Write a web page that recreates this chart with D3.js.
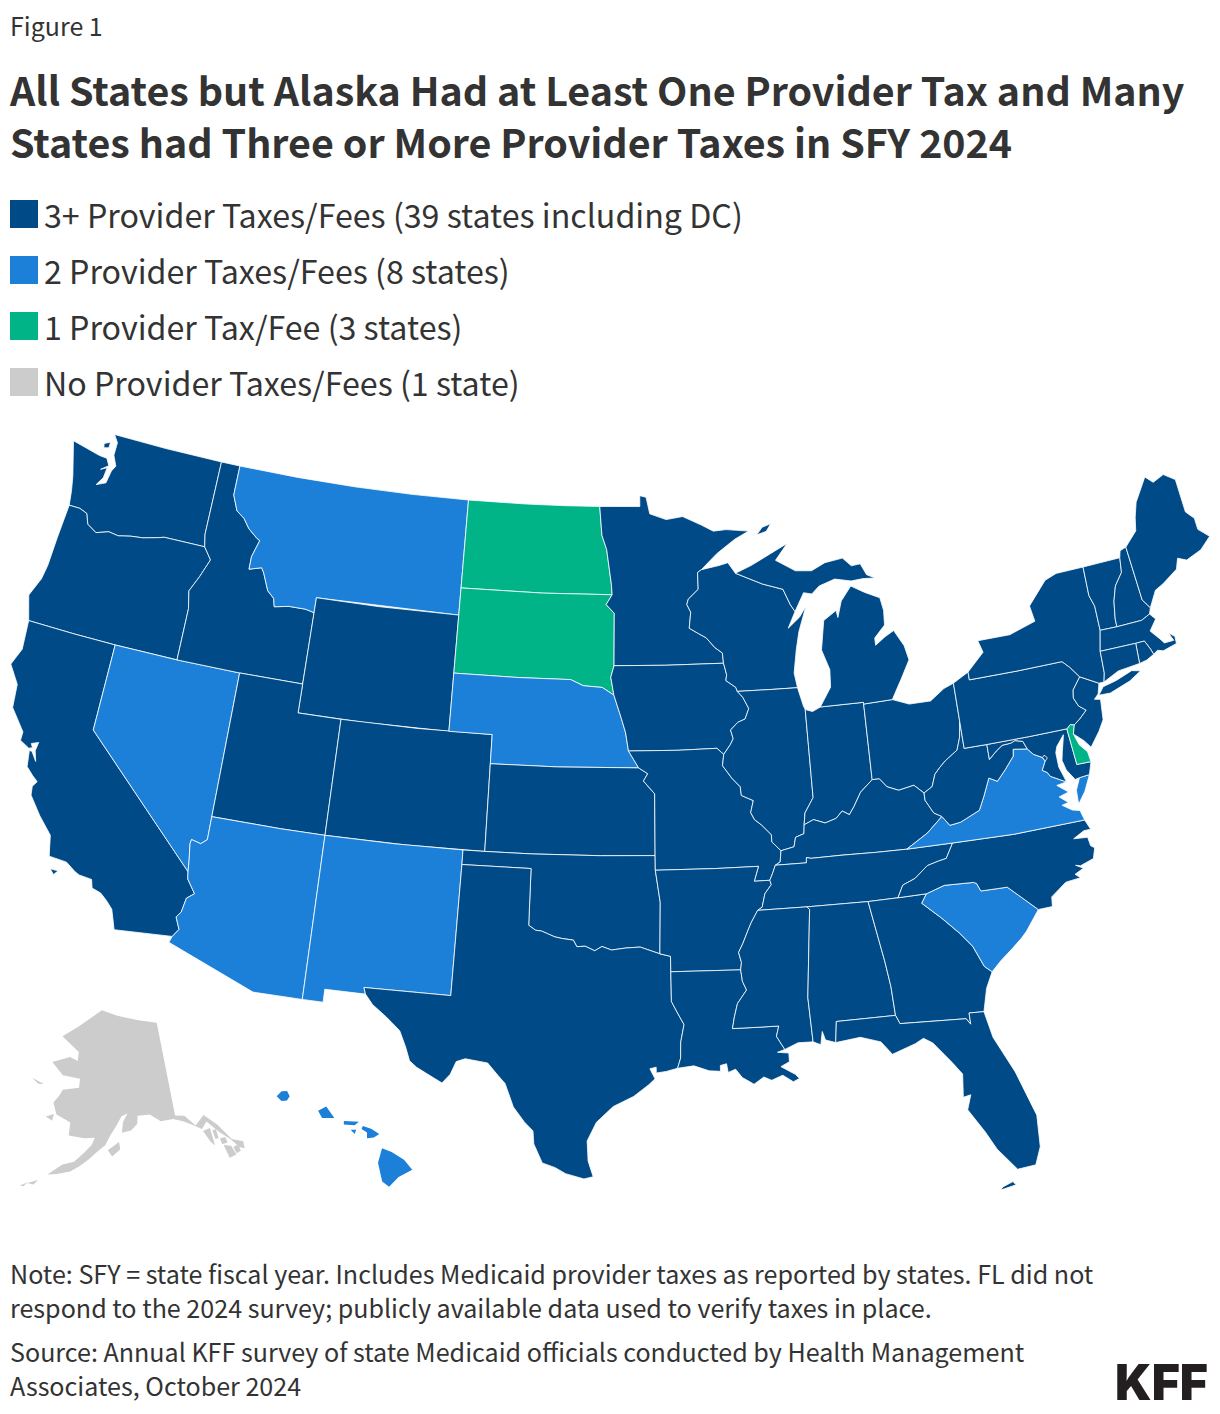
<!DOCTYPE html>
<meta charset="utf-8">
<style>
  body { margin: 0; background: #fff; }
  text { font-family: "Noto Sans CJK SC", "Noto Sans", sans-serif; fill: #333; }
</style>
<script src="https://d3js.org/d3.v7.min.js"></script>
<div id="my_dataviz"></div>

<script>
// ---- chart values ----
var categories = ["3+", "2", "1", "0"];
var categoryColors = ["#004a87", "#1c80d8", "#00b488", "#cccccc"];
var legendLabels = [
  "3+ Provider Taxes/Fees (39 states including DC)",
  "2 Provider Taxes/Fees (8 states)",
  "1 Provider Tax/Fee (3 states)",
  "No Provider Taxes/Fees (1 state)"
];
var twoTaxStates = ["MT", "NE", "NV", "AZ", "NM", "VA", "SC", "HI"];
var oneTaxStates = ["ND", "SD", "DE"];
var noTaxStates = ["AK"];
var titleLines = [
  "All States but Alaska Had at Least One Provider Tax and Many",
  "States had Three or More Provider Taxes in SFY 2024"
];
var noteLines = [
  "Note: SFY = state fiscal year. Includes Medicaid provider taxes as reported by states. FL did not",
  "respond to the 2024 survey; publicly available data used to verify taxes in place."
];
var sourceLines = [
  "Source: Annual KFF survey of state Medicaid officials conducted by Health Management",
  "Associates, October 2024"
];

// ---- shared borders, lon/lat ----
var mnWi = [[-92.1,46.75],[-92.29,46.66],[-92.29,46.08],[-92.8,45.75],[-92.88,45.57],[-92.7,45.3],[-92.8,44.75],[-92.35,44.55],[-92.0,44.4],[-91.6,44.05],[-91.25,43.85],[-91.22,43.5]];
var iaWi = [[-91.22,43.5],[-91.1,43.1],[-91.15,42.9],[-90.7,42.65],[-90.64,42.51]];
var iaIl = [[-90.64,42.51],[-90.4,42.3],[-90.15,41.9],[-90.35,41.55],[-90.7,41.45],[-91.05,41.2],[-90.95,40.9],[-91.1,40.7],[-91.42,40.38]];
var moIl = [[-91.42,40.38],[-91.5,40.0],[-91.1,39.55],[-90.75,39.25],[-90.72,38.95],[-90.2,38.75],[-90.35,38.35],[-90.2,38.1],[-89.9,37.9],[-89.5,37.55],[-89.5,37.3],[-89.13,36.98]];
var moKy = [[-89.13,36.98],[-89.2,36.6],[-89.42,36.5]];
var moTn = [[-89.42,36.5],[-89.55,36.25],[-89.7,36.0]];
var arTn = [[-89.7,36.0],[-89.65,35.85],[-89.95,35.55],[-90.1,35.1],[-90.3,35.0]];
var arMs = [[-90.3,35.0],[-90.6,34.6],[-90.75,34.35],[-91.0,33.9],[-91.2,33.6],[-91.1,33.25],[-91.15,33.0]];
var laMs = [[-91.15,33.0],[-91.1,32.6],[-90.95,32.3],[-91.35,31.85],[-91.5,31.4],[-91.6,31.0],[-90.5,31.0],[-89.73,31.0],[-89.85,30.65],[-89.55,30.18]];
var ilKy = [[-89.13,36.98],[-88.55,37.08],[-88.45,37.4],[-88.07,37.5],[-88.03,37.8]];
var inKy = [[-88.03,37.8],[-87.6,37.95],[-87.1,37.8],[-86.6,37.92],[-86.3,38.15],[-86.0,38.0],[-85.75,38.27],[-85.4,38.72],[-84.82,39.1]];
var ohKy = [[-84.82,39.1],[-84.5,39.1],[-84.2,38.8],[-83.7,38.63],[-83.0,38.73],[-82.6,38.42]];
var ohWv = [[-82.6,38.42],[-82.2,38.6],[-82.0,39.0],[-81.75,39.2],[-81.45,39.4],[-80.85,39.7],[-80.65,40.1],[-80.52,40.64]];
var ilIn = [[-88.03,37.8],[-87.95,38.2],[-87.53,38.7],[-87.53,39.35],[-87.53,40.5],[-87.53,41.72]];
var paNj = [[-74.7,41.36],[-75.13,40.97],[-75.2,40.7],[-75.05,40.4],[-74.75,40.2],[-75.13,39.95],[-75.42,39.8]];
var paDe = [[-75.42,39.8],[-75.6,39.84],[-75.79,39.72]];
var masonDixonMd = [[-79.48,39.72],[-77.5,39.72],[-75.79,39.72]];
var wvMd = [[-79.48,39.72],[-79.48,39.2],[-79.1,39.45],[-78.8,39.6],[-78.4,39.62],[-78.2,39.68],[-77.85,39.6],[-77.72,39.32]];
var wvVa = [[-77.72,39.32],[-78.35,39.4],[-78.4,39.17],[-78.87,38.76],[-79.3,38.42],[-79.65,38.58],[-80.0,38.0],[-80.3,37.55],[-80.9,37.35],[-81.2,37.25],[-81.68,37.2],[-81.97,37.54]];
var wvKy = [[-81.97,37.54],[-82.3,37.7],[-82.6,38.17],[-82.6,38.42]];
var vaKy = [[-81.97,37.54],[-82.7,37.05],[-83.68,36.6]];
var vaTn = [[-83.68,36.6],[-81.68,36.59]];
var vaNc = [[-81.68,36.59],[-79,36.54],[-75.87,36.55]];
var mdVa = [[-76.3,37.95],[-76.95,38.25],[-77.05,38.4],[-77.25,38.5],[-77.04,38.79]];
var mdVaUp = [[-77.12,38.93],[-77.5,39.1],[-77.72,39.32]];
var ncTn = [[-81.68,36.59],[-82.05,36.1],[-82.4,36.05],[-82.9,35.95],[-83.5,35.57],[-84.05,35.4],[-84.32,34.99]];
var ncSc = [[-78.55,33.86],[-79.67,34.8],[-80.8,34.82],[-80.93,35.1],[-81.05,35.15],[-82.3,35.2],[-83.1,35.0]];
var scGa = [[-80.87,32.03],[-81.15,32.25],[-81.5,33.0],[-81.95,33.5],[-82.6,34.1],[-83.35,34.7],[-83.1,35.0]];
var gaAl = [[-84.86,30.7],[-85.0,31.0],[-85.05,32.0],[-85.18,32.87],[-85.6,34.98]];
var gaFl = [[-81.45,30.72],[-82.05,30.75],[-82.05,30.36],[-82.2,30.57],[-84.86,30.7]];
var alFl = [[-87.5,30.28],[-87.4,31.0],[-85.0,31.0]];
var alMs = [[-88.2,35.0],[-88.1,34.9],[-88.47,31.9],[-88.4,30.37]];
var kyTn = [[-89.42,36.5],[-88.07,36.5],[-88.05,36.68],[-87.85,36.64],[-86.5,36.65],[-85,36.62],[-83.68,36.6]];
var tnSouth = [[-90.3,35.0],[-88.2,35.0],[-85.6,34.98],[-84.32,34.99]];
var laTx = [[-94.04,33.02],[-94.04,32.0],[-93.8,31.6],[-93.55,31.2],[-93.7,30.6],[-93.72,30.05],[-93.85,29.7]];
var arOk = [[-94.62,36.5],[-94.43,35.4],[-94.48,33.64]];
var arTx = [[-94.48,33.64],[-94.04,33.55],[-94.04,33.02]];
var okTx = [[-100,36.5],[-100,34.56],[-99.7,34.4],[-99.45,34.38],[-99.2,34.3],[-98.9,34.2],[-98.6,34.15],[-98.1,34.1],[-97.95,33.88],[-97.6,33.9],[-97.2,33.75],[-96.9,33.9],[-96.5,33.78],[-95.9,33.85],[-95.3,33.88],[-94.48,33.64]];
var moAr = [[-94.62,36.5],[-92,36.5],[-90.15,36.5],[-90.37,36.0],[-89.7,36.0]];
var ksOk = [[-102.05,37],[-100,37],[-97,37],[-94.62,37]];
var nvAz = [[-114.05,36.2],[-114.3,36.02],[-114.72,36.1],[-114.75,35.95],[-114.65,35.4],[-114.6,35.0]];
var azCa = [[-114.6,35.0],[-114.55,34.75],[-114.15,34.3],[-114.45,34.1],[-114.55,33.6],[-114.72,33.4],[-114.5,33.0],[-114.72,32.72]];
var caNv = [[-114.6,35.0],[-120,39],[-120,42]];
var orId = [[-116.92,46.0],[-116.5,45.6],[-116.85,44.95],[-117.2,44.4],[-117.03,43.8],[-117.03,42.0]];
var orWa = [[-123.95,46.2],[-123.4,46.2],[-123.0,46.1],[-122.8,45.75],[-122.3,45.55],[-121.7,45.7],[-121.2,45.65],[-120.6,45.75],[-120,45.8],[-119.3,45.93],[-118.98,46.0],[-116.92,46.0]];
var idMt = [[-116.05,49],[-116.05,47.97],[-115.72,47.45],[-115.3,47.25],[-114.95,46.93],[-114.45,46.65],[-114.3,46.6],[-114.55,46.0],[-114.55,45.56],[-113.95,45.69],[-113.8,45.52],[-113.45,44.95],[-113.1,44.73],[-113.0,44.45],[-112.3,44.55],[-111.5,44.55],[-111.05,44.48]];
var ndMn = [[-97.23,49],[-97.1,48],[-96.85,47.5],[-96.6,46.3],[-96.56,45.94]];
var sdMn = [[-96.56,45.94],[-96.85,45.6],[-96.45,45.3],[-96.45,43.5]];
var sdIa = [[-96.45,43.5],[-96.6,43.1],[-96.45,42.49]];
var neIa = [[-96.45,42.49],[-96.1,41.7],[-95.9,41.2],[-95.77,40.58]];
var neMo = [[-95.77,40.58],[-95.31,40.0]];
var ksMo = [[-95.31,40],[-94.9,39.8],[-95.1,39.55],[-94.6,39.11],[-94.62,37]];
var neSd = [[-96.45,42.49],[-97,42.75],[-97.9,42.8],[-98.5,43],[-101,43],[-104.05,43]];
var nyPa = [[-79.76,42.27],[-79.76,42.0],[-77.5,42.0],[-75.35,42.0],[-75.05,41.75],[-74.7,41.36]];
var nyVt = [[-73.35,45.0],[-73.4,44.0],[-73.25,43.6],[-73.27,42.75]];
var vtNh = [[-71.5,45.0],[-71.6,44.5],[-72.05,44.1],[-72.3,43.6],[-72.45,43.0],[-72.46,42.73]];
var nhMe = [[-71.08,45.3],[-70.98,43.4],[-70.7,43.07]];
var nhMa = [[-70.82,42.87],[-71.25,42.73],[-72.46,42.73]];
var maCt = [[-71.8,42.02],[-73.5,42.05]];
var maRi = [[-71.12,41.5],[-71.2,41.7],[-71.38,42.02],[-71.8,42.02]];
var ctNy = [[-73.5,42.05],[-73.55,41.3],[-73.66,41.0]];
var wiMi = [[-90.4,46.57],[-89.1,46.14],[-88.1,45.9],[-87.8,45.35],[-87.6,45.1]];
var miIn = [[-86.82,41.76],[-84.8,41.76]];

function r(a) { return a.slice().reverse(); }
function ring() { return Array.prototype.concat.apply([], arguments); }

var stateOutlines = [
  ["WA", ring([[-124.7,48.38],[-123.2,48.15],[-122.8,48.13],[-122.6,47.9],[-122.95,47.7],[-122.65,47.82],[-122.7,47.45],[-122.95,47.15],[-122.5,47.3],[-122.4,47.75],[-122.25,47.95],[-122.5,48.3],[-122.5,48.75],[-122.76,49],[-120,49],[-117.03,49],[-117.04,46.43]], r(orWa), [[-124.05,46.7],[-124.2,47.2]]),
    [[-123.15,48.6],[-122.85,48.7],[-122.85,48.5],[-123.1,48.45]]],
  ["OR", ring(orWa, orId, [[-120,42],[-122,42],[-124.2,42],[-124.55,42.84],[-124.2,43.5],[-124.1,44.0],[-124.05,45]])],
  ["CA", ring([[-124.2,42],[-122,42]], r(caNv), azCa, [[-117.12,32.53],[-117.25,32.85],[-117.4,33.2],[-117.7,33.45],[-118,33.65],[-118.4,33.75],[-118.5,34.03],[-119.05,34.08],[-119.25,34.15],[-119.7,34.4],[-120.47,34.45],[-120.65,35.15],[-121.3,35.7],[-121.9,36.3],[-121.95,36.6],[-121.8,36.8],[-122.05,36.95],[-122.4,37.2],[-122.5,37.75],[-122.38,37.75],[-122.1,37.45],[-122.25,37.8],[-122.2,38.1],[-122.5,38.0],[-122.4,37.87],[-122.55,37.82],[-123,38.0],[-123.0,38.3],[-123.75,39.0],[-123.85,39.8],[-124.4,40.4],[-124.1,41.0]]),
    [[-120.3,34.04],[-119.95,34.04],[-120.1,33.88]]],
  ["NV", ring([[-120,42],[-117.03,42],[-114.04,42],[-114.05,36.2]], nvAz.slice(1), caNv.slice(1))],
  ["ID", ring([[-117.03,49]], idMt, [[-111.05,42],[-114.04,42],[-117.03,42]], r(orId), [[-117.04,46.43]])],
  ["MT", ring(idMt, [[-111.05,45],[-104.05,45],[-104.05,49],[-107,49],[-110,49],[-113,49]])],
  ["WY", [[-111.05,45],[-108,45],[-104.05,45],[-104.05,41],[-108,41],[-111.05,41]]],
  ["UT", [[-114.04,42],[-111.05,42],[-111.05,41],[-109.05,41],[-109.05,37],[-111,37],[-114.05,37]]],
  ["CO", [[-109.05,41],[-105.5,41],[-102.05,41],[-102.05,37],[-105.5,37],[-109.05,37]]],
  ["AZ", ring([[-109.05,37],[-111,37],[-114.05,37],[-114.05,36.2]], nvAz.slice(1), azCa.slice(1), [[-114.81,32.5],[-111.07,31.33],[-109.05,31.33]])],
  ["NM", [[-103,37],[-106,37],[-109.05,37],[-109.05,31.33],[-108.2,31.33],[-108.2,31.78],[-106.53,31.78],[-106.62,32.0],[-103.06,32.0],[-103,36.5]]],
  ["ND", ring([[-104.05,49],[-101,49],[-99,49]], ndMn, [[-100,45.94],[-104.05,45.94]])],
  ["SD", ring([[-104.05,45.94],[-100,45.94]], sdMn, sdIa, neSd.slice(1), [[-104.05,45]])],
  ["NE", ring(neSd, [[-104.05,41],[-102.05,41],[-102.05,40],[-99,40],[-95.31,40]], r(neMo), r(neIa))],
  ["KS", ring([[-102.05,40],[-99,40]], ksMo, r(ksOk))],
  ["OK", ring([[-103,37]], ksOk, [[-94.62,36.5]], arOk.slice(1), r(okTx), [[-103,36.5]])],
  ["TX", ring([[-103,36.5],[-103.06,32.0],[-106.62,32.0],[-106.53,31.78],[-106.2,31.45],[-105.6,31.08],[-105.0,30.65],[-104.7,30.1],[-104.5,29.65],[-104.2,29.45],[-103.8,29.27],[-103.15,28.98],[-102.85,29.3],[-102.65,29.75],[-102.3,29.87],[-101.4,29.77],[-100.95,29.35],[-100.67,29.1],[-100.3,28.3],[-99.85,27.8],[-99.5,27.5],[-99.45,27.05],[-99.1,26.4],[-98.6,26.25],[-98.2,26.05],[-97.5,25.88],[-97.15,25.96],[-97.35,26.5],[-97.4,27.2],[-97.05,27.85],[-96.4,28.4],[-95.6,28.75],[-95.0,29.15],[-94.75,29.35],[-94.95,29.7],[-94.7,29.75],[-94.7,29.55],[-94.3,29.6],[-93.85,29.7]], r(laTx), r(arTx), r(okTx))],
  ["MN", ring([[-97.23,49],[-95.15,49],[-95.15,49.38],[-94.82,49.32],[-94.64,48.74],[-93.8,48.53],[-92.95,48.62],[-92.0,48.3],[-91.4,48.07],[-90.75,48.1],[-89.6,48.0],[-90.33,47.75],[-91.27,47.29]], mnWi, [[-94,43.5],[-96.45,43.5]], r(sdMn), r(ndMn))],
  ["IA", ring([[-96.45,43.5],[-94,43.5]], iaWi, iaIl, [[-91.72,40.6],[-93.5,40.58]], r(neIa), r(sdIa))],
  ["MO", ring(neMo, ksMo.slice(1), [[-94.62,36.5]], moAr.slice(1), r(moTn), r(moKy), r(moIl), [[-91.72,40.6],[-93.5,40.58]])],
  ["AR", ring(moAr, arTn.slice(1), arMs.slice(1), [[-94.04,33.02]], r(arTx), r(arOk))],
  ["LA", ring([[-94.04,33.02]], laMs, [[-89.85,30.1],[-89.4,30.05],[-89.4,29.75],[-89.75,29.6],[-89.2,29.3],[-89.05,29.15],[-89.3,29.05],[-89.7,29.3],[-90.15,29.15],[-90.45,29.28],[-90.85,29.05],[-91.3,29.3],[-91.55,29.6],[-91.85,29.5],[-91.9,29.8],[-92.15,29.75],[-92.15,29.55],[-92.6,29.58],[-93.2,29.77]], r(laTx))],
  ["WI", ring(mnWi, iaWi, [[-89,42.5],[-87.8,42.49],[-87.9,43.0],[-87.7,43.8],[-87.5,44.4],[-87.05,45.25],[-87.4,44.9],[-88.0,44.55]], r(wiMi), [[-90.75,46.95],[-91.2,46.87]])],
  ["IL", ring([[-90.64,42.51],[-89,42.5],[-87.8,42.49],[-87.6,41.85]], r(ilIn), r(ilKy), r(moIl), r(iaIl))],
  ["IN", ring([[-87.53,41.72],[-87.2,41.63]], miIn, [[-84.8,41.7],[-84.82,39.1]], r(inKy), ilIn)],
  ["OH", ring([[-84.8,41.7],[-83.45,41.73],[-82.7,41.5],[-81.7,41.5],[-81.0,41.85],[-80.52,41.98],[-80.52,40.64]], r(ohWv), r(ohKy))],
  ["KY", ring(ilKy, inKy, ohKy, r(wvKy), vaKy, r(kyTn), r(moKy))],
  ["TN", ring(kyTn, vaTn, ncTn, r(tnSouth), r(arTn), r(moTn))],
  ["MS", ring(tnSouth.slice(0, 2), alMs, [[-89.0,30.38]], r(laMs), r(arMs))],
  ["AL", ring(alMs, [[-88.1,30.25],[-88.0,30.7],[-87.9,30.4]], alFl, gaAl.slice(1))],
  ["GA", ring([[-85.6,34.98],[-84.32,34.99],[-83.1,35.0]], r(scGa), [[-81.2,31.5]], gaFl, gaAl)],
  ["FL", ring(gaFl, [[-85,31]], r(alFl), [[-86.5,30.38],[-85.7,30.15],[-85.3,29.68],[-84.35,29.95],[-84.0,30.1],[-83.65,29.9],[-83.0,29.15],[-82.65,28.7],[-82.75,27.9],[-82.45,27.95],[-82.65,27.45],[-82.1,26.6],[-81.75,25.95],[-81.1,25.15],[-80.4,25.2],[-80.12,25.8],[-80.05,26.9],[-80.6,28.5],[-81.25,29.8]]),
    [[-81.85,24.52],[-81.75,24.62],[-81.35,24.75],[-81.25,24.62]]],
  ["SC", ring(r(ncSc), [[-79.2,33.2],[-79.45,33.0],[-79.9,32.7],[-80.45,32.35]], scGa)],
  ["NC", ring(vaNc, [[-75.7,36.2],[-76.0,36.2],[-76.5,36.0],[-75.9,35.95],[-75.85,35.65],[-75.7,35.55],[-75.85,35.2],[-76.45,35.05],[-76.65,35.1],[-76.35,34.95],[-76.75,34.8],[-76.55,34.65],[-77.2,34.6],[-77.9,34.2],[-77.95,33.87]], ncSc, [[-84.32,34.99]], r(ncTn))],
  ["VA", ring(r(vaTn), r(vaKy), r(wvVa).slice(1), r(mdVaUp).slice(1), r(mdVa), [[-76.75,37.9],[-76.3,37.6],[-76.75,37.5],[-76.4,37.25],[-76.7,37.2],[-76.3,36.97],[-75.98,36.9],[-75.87,36.55],[-79,36.54]]),
    [[-75.98,37.12],[-75.6,37.5],[-75.24,38.03],[-75.7,38.0],[-75.95,37.6]]],
  ["WV", ring([[-80.52,39.72]], wvMd, wvVa, wvKy, ohWv)],
  ["MD", ring(masonDixonMd, [[-75.69,38.46],[-75.05,38.45],[-75.24,38.03],[-75.7,38.0],[-75.9,37.97],[-76.2,38.35],[-76.3,38.7],[-76.2,39.0],[-76.05,39.4],[-76.0,39.55],[-76.4,39.2],[-76.5,39.0],[-76.5,38.5],[-76.35,38.1]], mdVa, [[-77.12,38.93]], mdVaUp.slice(1), r(wvMd))],
  ["DC", [[-77.04,38.79],[-77.12,38.93],[-77.04,39.0],[-76.91,38.89]]],
  ["DE", ring(r(paDe), [[-75.55,39.5],[-75.4,39.1],[-75.1,38.8],[-75.05,38.45],[-75.69,38.46]])],
  ["PA", ring([[-80.52,41.98]], nyPa, paNj.slice(1), paDe.slice(1), r(masonDixonMd), [[-80.52,39.72]])],
  ["NJ", ring(paNj, [[-75.55,39.5],[-75.15,39.2],[-74.9,38.93],[-74.4,39.4],[-74.1,39.75],[-74.0,40.45],[-74.27,40.5],[-74.05,40.65],[-73.9,41.0]])],
  ["NY", ring(nyPa, [[-73.9,41.0],[-73.66,41.0]], r(ctNy), [[-73.27,42.75]], r(nyVt), [[-74.7,45.0],[-75.3,44.85],[-76.3,44.1],[-76.2,43.55],[-77.5,43.27],[-79.05,43.27],[-78.9,42.85]]),
    [[-74.03,40.6],[-73.75,40.85],[-73.1,40.95],[-72.3,41.15],[-71.9,41.07],[-72.5,40.82],[-73.5,40.58]]],
  ["VT", ring(nyVt, [[-72.46,42.73]], r(vtNh))],
  ["NH", ring(vtNh, r(nhMa), [[-70.7,43.07]], r(nhMe), [[-71.4,45.23]])],
  ["ME", ring(nhMe, [[-70.25,43.6],[-69.8,43.75],[-69.0,44.1],[-68.8,44.45],[-68.4,44.3],[-67.6,44.5],[-67.0,44.85],[-67.45,45.2],[-67.45,45.6],[-67.78,45.9],[-67.79,47.07],[-68.3,47.36],[-68.9,47.2],[-69.23,47.46],[-70.0,46.7],[-70.25,46.2],[-70.4,45.75]])],
  ["MA", ring(nhMa, [[-73.27,42.75],[-73.5,42.05]], r(maCt), r(maRi), [[-70.9,41.6],[-70.65,41.53],[-69.97,41.65],[-69.95,41.9],[-70.2,42.07],[-70.05,41.78],[-70.5,41.78],[-70.65,41.95],[-71.0,42.3],[-70.6,42.65]])],
  ["RI", ring(maRi, [[-71.86,41.32],[-71.5,41.37]])],
  ["CT", ring(maCt, ctNy.slice(1), [[-72.9,41.25],[-71.86,41.32]])],
  // upper and lower Michigan are two pieces, Isle Royale a third
  ["MI", ring(wiMi, [[-87.1,45.72],[-86.7,45.65],[-86.3,45.9],[-85.5,46.08],[-84.7,45.95],[-84.1,45.98],[-83.5,45.95],[-83.9,46.1],[-84.15,46.5],[-84.6,46.47],[-85.0,46.77],[-85.9,46.68],[-86.6,46.45],[-87.4,46.5],[-88.35,46.92],[-87.7,47.47],[-88.9,47.05],[-89.6,46.8]]),
    ring(r(miIn), [[-86.25,42.4],[-86.2,43.0],[-86.5,43.7],[-86.25,44.7],[-85.6,45.0],[-85.55,44.75],[-85.3,45.3],[-84.75,45.78],[-84.1,45.5],[-83.4,45.25],[-83.3,44.8],[-83.35,44.3],[-83.9,43.9],[-83.9,43.65],[-83.4,43.9],[-82.95,44.07],[-82.55,43.5],[-82.42,43.0],[-82.9,42.4],[-83.15,42.1],[-83.45,41.73],[-84.8,41.7]]),
    [[-89.2,47.85],[-88.9,48.1],[-88.45,48.2],[-88.7,47.95]]],
  ["HI", [[-155.9,20.25],[-155.55,20.12],[-155.1,19.85],[-154.8,19.5],[-155.3,19.25],[-155.65,18.92],[-155.9,19.1],[-156.05,19.75]],
    [[-156.65,20.92],[-156.6,21.03],[-156.3,20.93],[-156.0,20.75],[-156.2,20.63],[-156.45,20.6],[-156.45,20.8]],
    [[-157.3,21.2],[-156.75,21.17],[-156.9,21.05],[-157.3,21.08]],
    [[-157.05,20.9],[-156.85,20.9],[-156.9,20.75]],
    [[-158.25,21.55],[-157.95,21.7],[-157.65,21.3],[-158.1,21.3]],
    [[-159.78,22.05],[-159.6,22.22],[-159.4,22.23],[-159.3,22.05],[-159.4,21.9],[-159.6,21.88]]],
  ["AK", [[-141,69.65],[-141,60.3],[-139.2,60.1],[-137.5,58.9],[-135.5,59.7],[-133.5,58.4],[-131.8,56.6],[-130,56],[-130.2,55.3],[-131,55.6],[-132,56.6],[-133.5,57.6],[-134.5,58.4],[-135.3,59.0],[-136.5,58.4],[-138,59],[-139.7,59.6],[-141.5,60],[-144,60],[-146,60.8],[-148.5,60.8],[-148.7,60],[-150,59.4],[-151.8,59.2],[-151.5,60.3],[-150.5,61.1],[-151.8,60.8],[-153,59.8],[-154,59],[-155,58],[-156.5,57.3],[-158,56.5],[-159.5,55.8],[-161,55.2],[-163.2,54.8],[-164.8,54.6],[-162.5,55.8],[-160.5,56.2],[-158.8,57.2],[-157.5,58],[-157,58.7],[-159,58.6],[-162,58.7],[-162,60],[-165,60.6],[-166,61.7],[-165,62.5],[-164.5,63.1],[-161,63.5],[-161,64.4],[-165,64.5],[-168,65.6],[-164,66.4],[-162,66.1],[-162,67.0],[-166.8,68.3],[-163,69.5],[-156.6,71.35],[-152,70.8],[-146,70.2]],
    [[-154.5,57.5],[-152.4,58.3],[-152.2,57.6],[-153.7,56.9]],
    [[-167,60.2],[-165.5,60.6],[-165.6,59.9]],
    [[-171.7,63.6],[-168.8,63.3],[-170,63.2]],
    [[-134.7,58.0],[-134,58.0],[-134,57.1],[-134.6,57.1]],
    [[-136.4,58.2],[-135,58.3],[-135,56.5],[-135.6,57]],
    [[-133.5,56.3],[-132.3,56],[-131.9,55],[-133.2,54.9]],
    [[-133.8,57],[-132.8,57],[-132.7,56.4],[-133.7,56.4]],
    [[-132,55.8],[-131,55.9],[-131,55.2],[-131.8,55.1]],
    [[-167.9,53.4],[-166.2,53.9],[-166.8,53.4]],
    [[-169,53],[-167.8,53.5],[-168.4,53]]]
];

function categoryOf(id) {
  if (noTaxStates.includes(id)) return "0";
  if (oneTaxStates.includes(id)) return "1";
  if (twoTaxStates.includes(id)) return "2";
  return "3+";
}

// d3.geo wants rings wound the small way round
function toFeature(row) {
  var polys = row.slice(1).map(function(pts) {
    var closed = pts.concat([pts[0]]);
    if (d3.geoArea({type: "Polygon", coordinates: [closed]}) > 2 * Math.PI) closed.reverse();
    return [closed];
  });
  return {type: "Feature", id: row[0], geometry: {type: "MultiPolygon", coordinates: polys}};
}

var color = d3.scaleOrdinal().domain(categories).range(categoryColors);

var lower48 = d3.geoAlbers().scale(1662).translate([610, 806]);
var alaska = d3.geoConicEqualArea().rotate([154, 0]).center([-2, 58.5]).parallels([55, 65]).scale(580).translate([100, 1140]);
var hawaii = d3.geoConicEqualArea().rotate([157, 0]).center([-3, 19.9]).parallels([8, 18]).scale(1660).translate([270, 1158]);

var pathLower = d3.geoPath(lower48), pathAk = d3.geoPath(alaska), pathHi = d3.geoPath(hawaii);

var svg = d3.select("#my_dataviz").append("svg").attr("width", 1220).attr("height", 1414);

// map
svg.append("g").selectAll("path")
  .data(stateOutlines.map(toFeature))
  .enter().append("path")
    .attr("d", function(d) {
      return d.id == "AK" ? pathAk(d) : d.id == "HI" ? pathHi(d) : pathLower(d);
    })
    .attr("fill", function(d) { return color(categoryOf(d.id)); })
    .attr("stroke", "#fff")
    .attr("stroke-width", function(d) { return d.id == "AK" || d.id == "HI" ? 0 : 0.8; })
    .attr("stroke-linejoin", "round");

// heading
svg.append("text").attr("x", 10).attr("y", 36).style("font-size", "25px").text("Figure 1");
svg.selectAll(".title").data(titleLines).enter().append("text")
  .attr("x", 10).attr("y", function(d, i) { return 106 + i * 52; })
  .style("font-size", "39.4px").style("font-weight", 700).text(function(d) { return d; });

// legend
var legend = svg.selectAll(".legend").data(legendLabels).enter().append("g")
  .attr("transform", function(d, i) { return "translate(10," + (200 + i * 56) + ")"; });
legend.append("rect").attr("width", 28).attr("height", 28)
  .attr("fill", function(d, i) { return categoryColors[i]; });
legend.append("text").attr("x", 34).attr("y", 28).style("font-size", "32.2px")
  .text(function(d) { return d; });

// footer
svg.selectAll(".note").data(noteLines).enter().append("text")
  .attr("x", 10).attr("y", function(d, i) { return 1284 + i * 34; })
  .style("font-size", "25.08px").text(function(d) { return d; });
svg.selectAll(".source").data(sourceLines).enter().append("text")
  .attr("x", 10).attr("y", function(d, i) { return 1362 + i * 34; })
  .style("font-size", "25.08px").text(function(d) { return d; });
svg.append("text").attr("x", 1115).attr("y", 1400).style("font-family", "Inter")
  .style("font-size", "50px").style("font-weight", 900).style("fill", "#231f20")
  .attr("textLength", 93).attr("lengthAdjust", "spacingAndGlyphs").text("KFF");
</script>
